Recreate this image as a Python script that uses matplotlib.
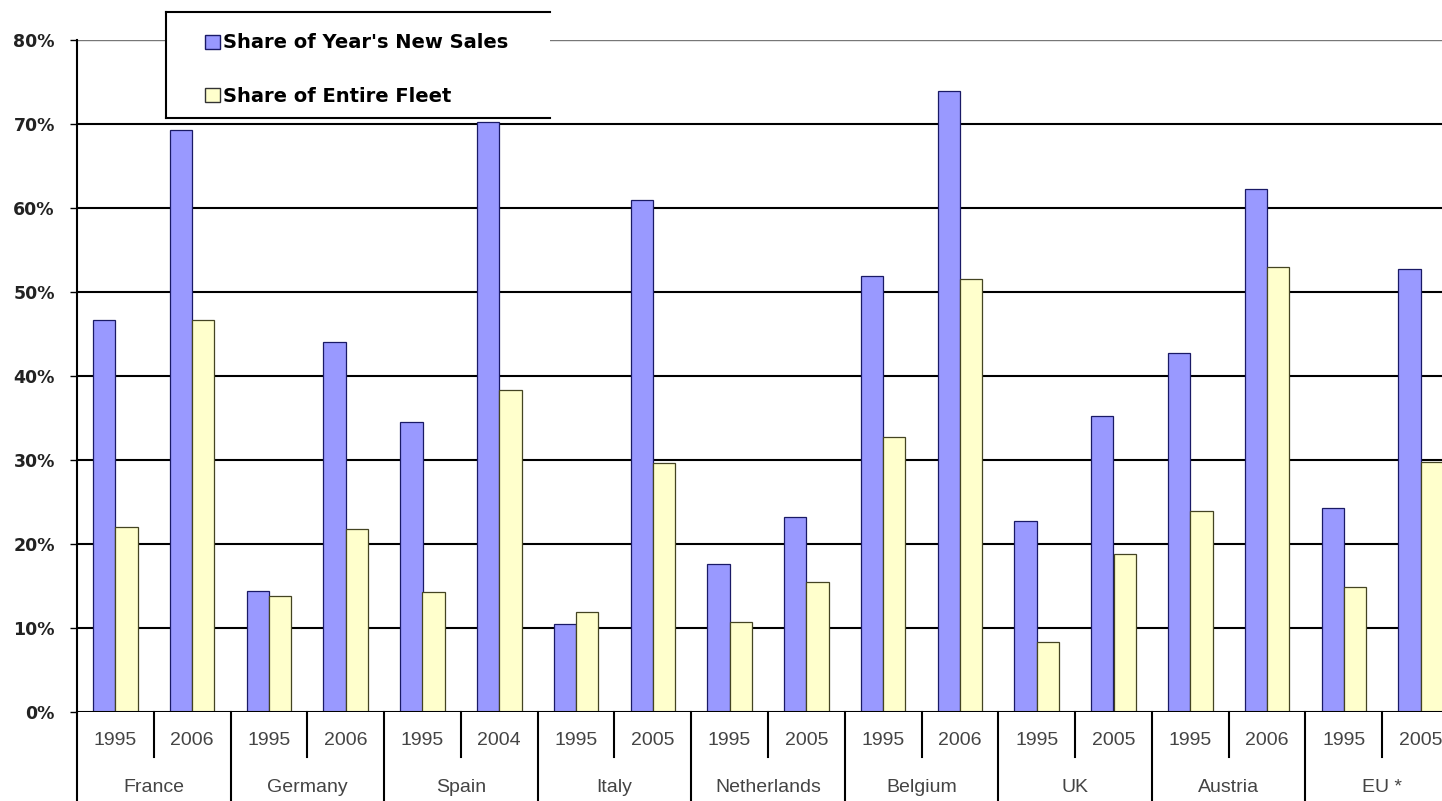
import matplotlib
matplotlib.use("Agg")
import matplotlib.pyplot as plt
from matplotlib.patches import Patch, Rectangle
from matplotlib.lines import Line2D
import numpy as np

# data (percent)
countries = ["France", "Germany", "Spain", "Italy", "Netherlands",
             "Belgium", "UK", "Austria", "EU *"]
years = ["1995", "2006", "1995", "2006", "1995", "2004", "1995", "2005",
         "1995", "2005", "1995", "2006", "1995", "2005", "1995", "2006",
         "1995", "2005"]
new_sales = [46.7, 69.3, 14.4, 44.1, 34.5, 70.2, 10.5, 61.0, 17.6, 23.2,
             51.9, 73.9, 22.7, 35.2, 42.7, 62.3, 24.3, 52.7]
fleet = [22.0, 46.7, 13.8, 21.8, 14.3, 38.3, 11.9, 29.6, 10.7, 15.5,
         32.7, 51.5, 8.3, 18.8, 23.9, 53.0, 14.9, 29.8]
labels = ["Share of Year's New Sales", "Share of Entire Fleet"]

W, H = 1442, 801
blue = "#9999FF"
yellow = "#FFFFCC"

fig = plt.figure(figsize=(W / 100, H / 100), dpi=100)
ax = fig.add_axes([77 / W, 89 / H, 1382 / W, 672 / H])

x = np.arange(len(years))
bw = 0.29
ax.bar(x - bw / 2, np.array(new_sales) / 100, bw, color=blue,
       edgecolor="#1a1a66", linewidth=0.9, zorder=3)
ax.bar(x + bw / 2, np.array(fleet) / 100, bw, color=yellow,
       edgecolor="#444422", linewidth=0.9, zorder=3)

ax.set_xlim(-0.5, len(years) - 0.5)
ax.set_ylim(0, 0.8)
yt = np.arange(0, 0.81, 0.1)
ax.set_yticks(yt)
ax.set_yticklabels([f"{int(round(v * 100))}%" for v in yt],
                   fontfamily="DejaVu Sans", fontweight="bold",
                   fontsize=12.5, color="#222222")
ax.tick_params(axis="y", direction="out", length=5, width=1, pad=11)
ax.set_xticks([])

# gridlines
for v in yt[1:-1]:
    ax.axhline(v, color="black", lw=1.5, zorder=1)
ax.axhline(0.8, color="#777777", lw=1.0, zorder=1)

for s in ["top", "right", "bottom"]:
    ax.spines[s].set_visible(False)
ax.spines["left"].set_linewidth(1.5)
ax.axhline(0, color="black", lw=1.5, zorder=4)

# two-level category axis
tr = ax.get_xaxis_transform()
ax.plot([-0.5, -0.5], [0, -0.1324], transform=tr, color="black",
        lw=1.5, clip_on=False)
for i in range(len(years) - 1):
    b = i + 0.5
    y_end = -0.067 if i % 2 == 0 else -0.1324
    ax.plot([b, b], [0, y_end], transform=tr, color="black", lw=1.5,
            clip_on=False)
for i, yr in enumerate(years):
    ax.text(i, -0.043, yr, transform=tr, ha="center", va="center",
            fontfamily="Liberation Sans", fontsize=14, color="#444444")
for j, c in enumerate(countries):
    ax.text(2 * j + 0.5, -0.113, c, transform=tr, ha="center",
            va="center", fontfamily="Liberation Sans", fontsize=14,
            color="#444444")

# legend box (open on the right, as in the original)
x0, x1 = 166 / W, 550 / W
yt_, yb_ = 1 - 12 / H, 1 - 118 / H
fig.add_artist(Rectangle((x0, yb_), x1 - x0, yt_ - yb_,
                         transform=fig.transFigure, facecolor="white",
                         edgecolor="none", zorder=3))
for xs, ys in [([x0, x1], [yt_, yt_]), ([x0, x1], [yb_, yb_]),
               ([x0, x0], [yb_, yt_])]:
    fig.add_artist(Line2D(xs, ys, transform=fig.transFigure,
                          color="black", lw=1.5, zorder=4))

handles = [Patch(facecolor=blue, edgecolor="#1a1a66", linewidth=1),
           Patch(facecolor=yellow, edgecolor="#333333", linewidth=1)]
fig.legend(handles, labels, loc="upper left",
           bbox_to_anchor=(205 / W, 1 - 33.5 / H), frameon=False,
           borderpad=0, borderaxespad=0, labelspacing=1.76,
           handlelength=0.75, handleheight=0.75, handletextpad=0.2,
           prop={"family": "DejaVu Sans", "weight": "bold", "size": 14})

fig.savefig("out.png", dpi=100)
